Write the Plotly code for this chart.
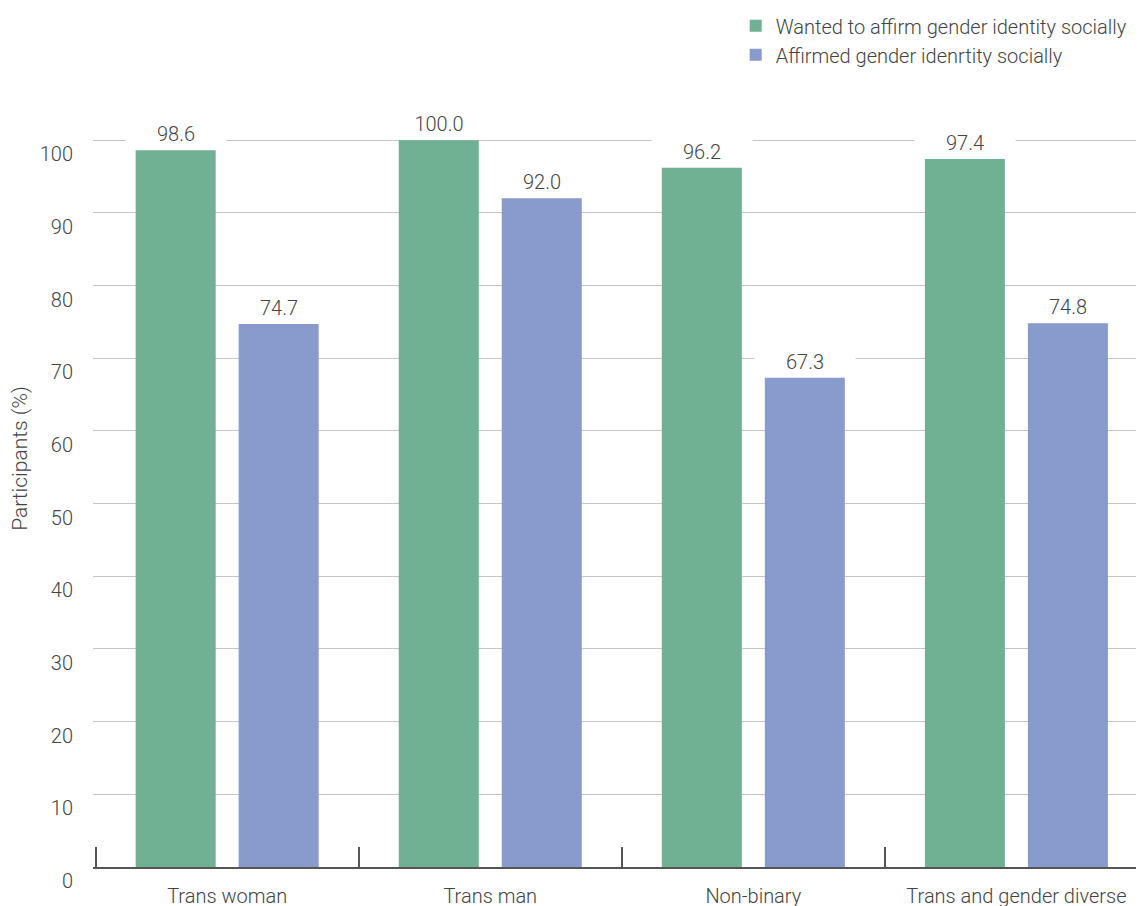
import plotly.graph_objects as go

categories = ["Trans woman", "Trans man", "Non-binary", "Trans and gender diverse"]
series_names = ["Wanted to affirm gender identity socially", "Affirmed gender idenrtity socially"]
wanted = [98.6, 100.0, 96.2, 97.4]
affirmed = [74.7, 92.0, 67.3, 74.8]
y_ticks = [0, 10, 20, 30, 40, 50, 60, 70, 80, 90, 100]
y_tick_labels = [str(v) for v in y_ticks]

colors = ["#71b193", "#899acc"]
text_color = "#444444"
font_family = "Roboto, 'Open Sans', sans-serif"

fig = go.Figure()
for name, vals, col in zip(series_names, [wanted, affirmed], colors):
    fig.add_trace(go.Bar(
        x=categories, y=vals, name=name,
        marker=dict(color=col, line=dict(width=0)),
        legendgroup=name,
    ))

annotations = []
for j, vals in enumerate([wanted, affirmed]):
    shift = -51.5 if j == 0 else 51.5
    for c, v in zip(categories, vals):
        annotations.append(dict(
            x=c, y=v, xref="x", yref="y", text=f"{v:.1f}",
            showarrow=False, xanchor="center", yanchor="bottom",
            xshift=shift, yshift=3, width=100, bgcolor="white", borderpad=0,
            font=dict(size=20, color=text_color, family=font_family, weight=300),
        ))

# page body has an 8px margin, so the figure is sized to fill the rest
fig.update_layout(
    width=1136, height=898,
    margin=dict(l=85, r=0, t=42, b=39, autoexpand=False),
    paper_bgcolor="white", plot_bgcolor="white",
    barmode="group", bargap=0.217, bargroupgap=0.223,
    font=dict(family=font_family, size=20, color=text_color, weight=300),
    showlegend=True,
    legend=dict(
        x=0.6115, y=1.0534, xanchor="left", yanchor="top",
        font=dict(size=20, color=text_color, family=font_family, weight=300),
        bgcolor="rgba(0,0,0,0)", tracegroupgap=9, traceorder="normal",
    ),
    annotations=annotations,
)
fig.update_xaxes(
    type="category", range=[-0.51, 3.485], automargin=False,
    showline=True, linecolor="#555555", linewidth=1.5,
    ticks="inside", ticklen=20, tickcolor="#555555", tickwidth=1.5,
    tickson="boundaries", showgrid=False, zeroline=False,
    tickfont=dict(size=20, color=text_color, family=font_family, weight=300),
    ticklabelstandoff=10,
)
fig.update_yaxes(
    range=[0, 112.4], tickmode="array", tickvals=y_ticks, ticktext=y_tick_labels,
    automargin=False,
    showgrid=True, gridcolor="#c4c4c4", gridwidth=1,
    zeroline=False, showline=False, ticks="",
    ticklabelposition="outside bottom", ticklabelstandoff=19,
    tickfont=dict(size=20, color=text_color, family=font_family, weight=300),
    title=dict(text="Participants (%)", standoff=15,
               font=dict(size=21, color=text_color, family=font_family, weight=300)),
)

fig.write_html("out.html")
